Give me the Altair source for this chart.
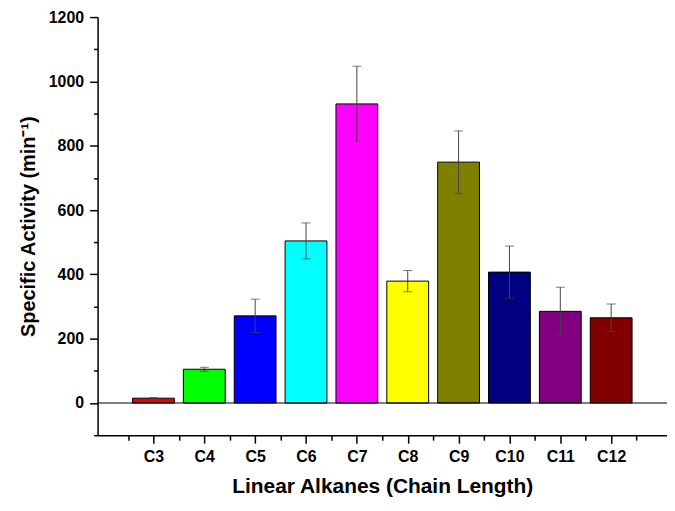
import altair as alt
import pandas as pd

categories = ["C3", "C4", "C5", "C6", "C7", "C8", "C9", "C10", "C11", "C12"]
chain = [3, 4, 5, 6, 7, 8, 9, 10, 11, 12]
activity = [15, 105, 271, 504, 930, 379, 749, 407, 285, 265]
error = [2, 6, 52, 56, 117, 33, 97, 81, 75, 43]
colors = ["#E60000", "#00FF00", "#0000FF", "#00FFFF", "#FF00FF",
          "#FFFF00", "#808000", "#000080", "#800080", "#800000"]

y_major = [0, 200, 400, 600, 800, 1000, 1200]
y_minor = [-100, 100, 300, 500, 700, 900, 1100]
x_minor = [2.5, 3.5, 4.5, 5.5, 6.5, 7.5, 8.5, 9.5, 10.5, 11.5, 12.5]

df = pd.DataFrame({"cat": categories, "n": chain, "v": activity, "e": error})
df["lo"] = df["v"] - df["e"]
df["hi"] = df["v"] + df["e"]

FONT = "Liberation Sans"
xs = alt.Scale(domain=[2, 13], nice=False, zero=False)
ys = alt.Scale(domain=[-100, 1200], nice=False, zero=False)

base = alt.Chart(df)

bars = base.mark_bar(size=42, stroke="black", strokeWidth=1).encode(
    x=alt.X("n:Q", scale=xs,
            axis=alt.Axis(values=chain, labelExpr="'C' + datum.value", tickSize=8,
                          title="Linear Alkanes (Chain Length)", titlePadding=12,
                          titleFontSize=21, labelPadding=5, orient="bottom")),
    y=alt.Y("v:Q", scale=ys,
            axis=alt.Axis(values=y_major, format="d", tickSize=8,
                          title="Specific Activity (min⁻¹)", titleFontSize=20,
                          titlePadding=10, labelPadding=6, orient="left")),
    color=alt.Color("cat:N", scale=alt.Scale(domain=categories, range=colors), legend=None),
)

zero_rule = alt.Chart(pd.DataFrame({"z": [0]})).mark_rule(color="black", strokeWidth=1.2).encode(
    y=alt.Y("z:Q", scale=ys, axis=None)
)

err_rule = base.mark_rule(color="#444444", strokeWidth=1).encode(
    x=alt.X("n:Q", scale=xs, axis=None),
    y=alt.Y("lo:Q", scale=ys, axis=None),
    y2="hi:Q",
)

cap_hi = base.mark_tick(color="#444444", size=9, thickness=1, orient="horizontal").encode(
    x=alt.X("n:Q", scale=xs,
            axis=alt.Axis(values=x_minor, labels=False, tickSize=5, domain=False,
                          title=None, orient="bottom")),
    y=alt.Y("hi:Q", scale=ys,
            axis=alt.Axis(values=y_minor, labels=False, tickSize=4, domain=False,
                          title=None, orient="left")),
)

cap_lo = base.mark_tick(color="#444444", size=9, thickness=1, orient="horizontal").encode(
    x=alt.X("n:Q", scale=xs, axis=None),
    y=alt.Y("lo:Q", scale=ys, axis=None),
)

chart = alt.layer(bars, zero_rule, err_rule, cap_lo, cap_hi).resolve_axis(
    x="independent", y="independent"
).properties(
    width=572, height=420,
    padding={"left": 90, "top": 8, "right": 0, "bottom": 66},
    autosize="none",
).configure_view(stroke=None).configure_axis(
    grid=False,
    labelFont=FONT, labelFontWeight="bold", labelFontSize=16, labelColor="black",
    titleFont=FONT, titleFontWeight="bold", titleColor="black",
    domainColor="black", domainWidth=1.5, tickColor="black", tickWidth=1.5,
)

chart.save("out.html", embed_options={"renderer": "svg", "actions": False})
